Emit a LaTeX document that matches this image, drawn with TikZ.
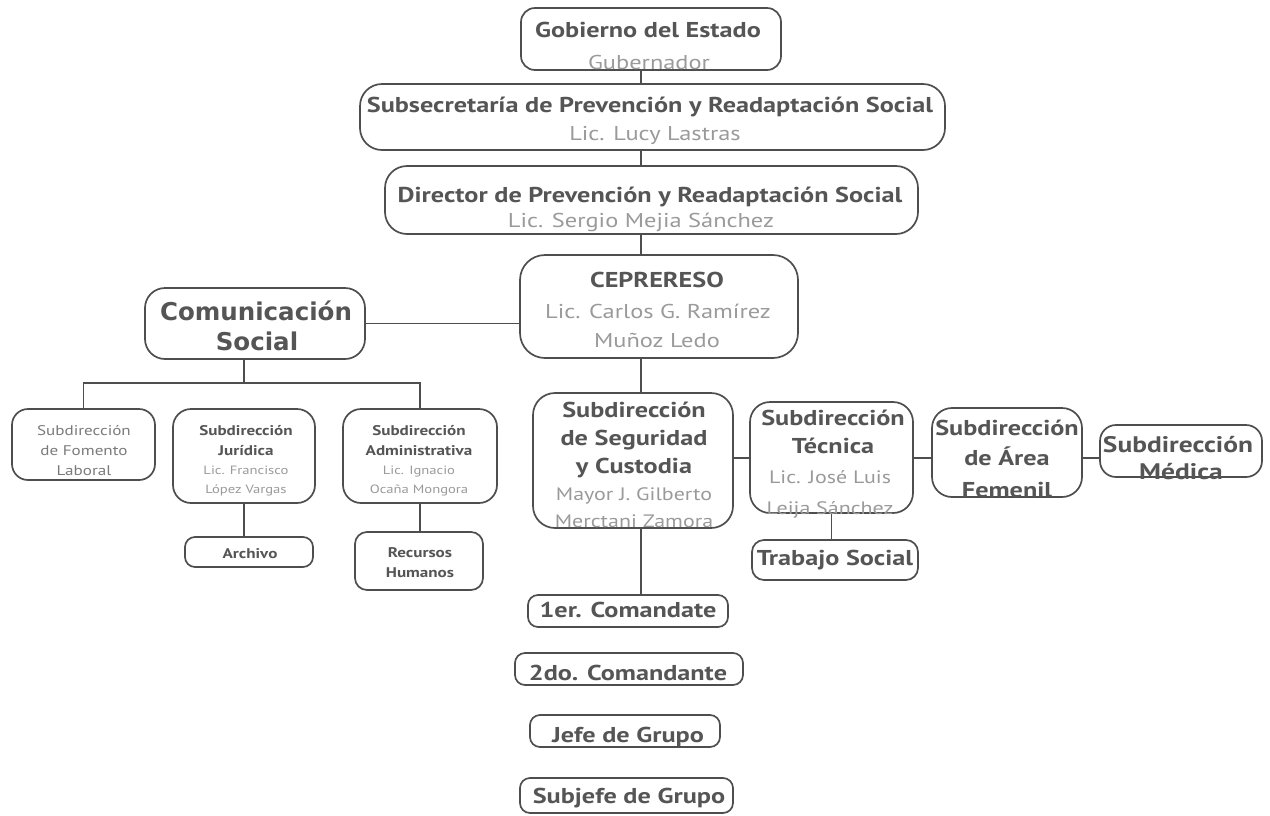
\documentclass[tikz,border=0pt]{standalone}
\usepackage{fontspec}
\setmainfont{PT Sans}[FakeStretch=1.22]
\newfontfamily\dvsans{DejaVu Sans}
\definecolor{linec}{HTML}{4E4E4E}
\definecolor{ttc}{HTML}{555555}
\definecolor{nmc}{HTML}{9A9A9A}
\definecolor{smc}{HTML}{7A7A7A}
\tikzset{
  box/.style={draw=linec,line width=1.7pt,fill=white,inner sep=0pt},
  conn/.style={draw=linec,line width=1.6pt},
  ttl/.style={anchor=base,inner sep=0pt,text=ttc,font=\fontsize{21.5}{21.5}\selectfont\bfseries},
  ttlb/.style={anchor=base,inner sep=0pt,text=ttc,font=\fontsize{22.5}{22.5}\selectfont\bfseries},
  nam/.style={anchor=base,inner sep=0pt,text=nmc,font=\fontsize{20}{20}\selectfont},
  namm/.style={anchor=base,inner sep=0pt,text=nmc,font=\fontsize{18}{18}\selectfont},
  comf/.style={anchor=base,inner sep=0pt,text=ttc,font=\dvsans\fontsize{24.5}{24.5}\selectfont\bfseries},
  sml/.style={anchor=base,inner sep=0pt,text=smc,font=\fontsize{14}{14}\selectfont},
  smb/.style={anchor=base,inner sep=0pt,text=ttc,font=\fontsize{14}{14}\selectfont\bfseries},
  smn/.style={anchor=base,inner sep=0pt,text=nmc,font=\fontsize{12}{12}\selectfont},
}
\newcommand\orgbox[6]{\node[box,rounded corners=#6,minimum width={#4-#2},minimum height={#5-#3}] (#1) at ({(#2+#4)/2},{(#3+#5)/2}) {};}
\newcommand\tx[4]{\node[#1] at (#2,#3) {#4};}
\begin{document}
\begin{tikzpicture}[x=1pt,y=-1pt]
\useasboundingbox (0,0) rectangle (1270,815);
% boxes
\orgbox{gob}{521}{8}{781}{70}{14}
\orgbox{sub}{360}{84}{945}{150}{22}
\orgbox{dir}{385}{166}{918}{234}{22}
\orgbox{cep}{520}{255}{798}{358}{25}
\orgbox{com}{145}{288}{365}{359}{20}
\orgbox{fom}{12}{409}{155}{480}{16}
\orgbox{jur}{173}{409}{315}{503}{18}
\orgbox{adm}{343}{409}{497}{503}{18}
\orgbox{arc}{185}{537}{313}{567}{10}
\orgbox{rh}{355}{532}{483}{590}{12}
\orgbox{seg}{533}{393}{733}{528}{22}
\orgbox{tec}{750}{402}{913}{513}{20}
\orgbox{ts}{752}{540}{918}{580}{12}
\orgbox{fem}{932}{408}{1082}{497}{20}
\orgbox{med}{1100}{425}{1262}{477}{16}
\orgbox{ca}{528}{595}{728}{627}{10}
\orgbox{cb}{515}{653}{743}{685}{10}
\orgbox{jg}{530}{715}{720}{747}{10}
\orgbox{sj}{520}{778}{733}{813}{10}
% helper coordinates
\coordinate (vx) at (641,0);
\coordinate (bus) at (0,383);
\coordinate (hy) at (0,458);
% connectors
\draw[conn] (gob.south -| vx) -- (sub.north -| vx);
\draw[conn] (sub.south -| vx) -- (dir.north -| vx);
\draw[conn] (dir.south -| vx) -- (cep.north -| vx);
\draw[conn] (cep.south -| vx) -- (seg.north -| vx);
\draw[conn] (seg.south -| vx) -- (ca.north -| vx);
\draw[conn] (com.east) -- (cep.west |- com.east);
\draw[conn] (com.south -| jur.north) -- (bus -| jur.north);
\draw[conn] (fom.north) -- (bus -| fom.north) -- (bus -| adm.north) -- (adm.north);
\draw[conn] (jur.south) -- (arc.north -| jur.south);
\draw[conn] (adm.south) -- (rh.north -| adm.south);
\draw[conn] (seg.east |- hy) -- (tec.west |- hy);
\draw[conn] (tec.east |- hy) -- (fem.west |- hy);
\draw[conn] (fem.east |- hy) -- (med.west |- hy);
\draw[conn] (tec.south) -- (ts.north -| tec.south);
% texts
\tx{ttl}{648}{37}{Gobierno del Estado}
\tx{nam}{649}{69}{Gubernador}
\tx{ttl}{650}{112}{Subsecretaría de Prevención y Readaptación Social}
\tx{nam}{655}{140}{Lic. Lucy Lastras}
\tx{ttl}{650}{202}{Director de Prevención y Readaptación Social}
\tx{nam}{641}{227}{Lic. Sergio Mejia Sánchez}
\tx{ttl}{657}{287}{CEPRERESO}
\tx{nam}{658}{318}{Lic. Carlos G. Ramírez}
\tx{nam}{657}{347}{Muñoz Ledo}
\tx{comf}{256}{320}{Comunicación}
\tx{comf}{257}{350}{Social}
\tx{sml}{84}{435}{Subdirección}
\tx{sml}{84}{455}{de Fomento}
\tx{sml}{84}{475}{Laboral}
\tx{smb}{246}{435}{Subdirección}
\tx{smb}{246}{455}{Jurídica}
\tx{smn}{246}{474}{Lic. Francisco}
\tx{smn}{246}{493}{López Vargas}
\tx{smb}{419}{435}{Subdirección}
\tx{smb}{419}{455}{Administrativa}
\tx{smn}{419}{474}{Lic. Ignacio}
\tx{smn}{419}{493}{Ocaña Mongora}
\tx{smb}{250}{558}{Archivo}
\tx{smb}{420}{557}{Recursos}
\tx{smb}{420}{577}{Humanos}
\tx{ttl}{634}{417}{Subdirección}
\tx{ttl}{634}{445}{de Seguridad}
\tx{ttl}{634}{473}{y Custodia}
\tx{namm}{634}{500}{Mayor J. Gilberto}
\tx{namm}{634}{527}{Merctani Zamora}
\tx{ttl}{833}{425}{Subdirección}
\tx{ttl}{833}{453}{Técnica}
\tx{namm}{830}{483}{Lic. José Luis}
\tx{namm}{830}{514}{Leija Sánchez}
\tx{ttl}{835}{565}{Trabajo Social}
\tx{ttl}{1007}{435}{Subdirección}
\tx{ttl}{1007}{465}{de Área}
\tx{ttl}{1007}{497}{Femenil}
\tx{ttlb}{1178}{452}{Subdirección}
\tx{ttlb}{1181}{479}{Médica}
\tx{ttl}{628}{617}{1er. Comandate}
\tx{ttl}{628}{680}{2do. Comandante}
\tx{ttl}{628}{742}{Jefe de Grupo}
\tx{ttl}{629}{803}{Subjefe de Grupo}
\end{tikzpicture}
\end{document}
